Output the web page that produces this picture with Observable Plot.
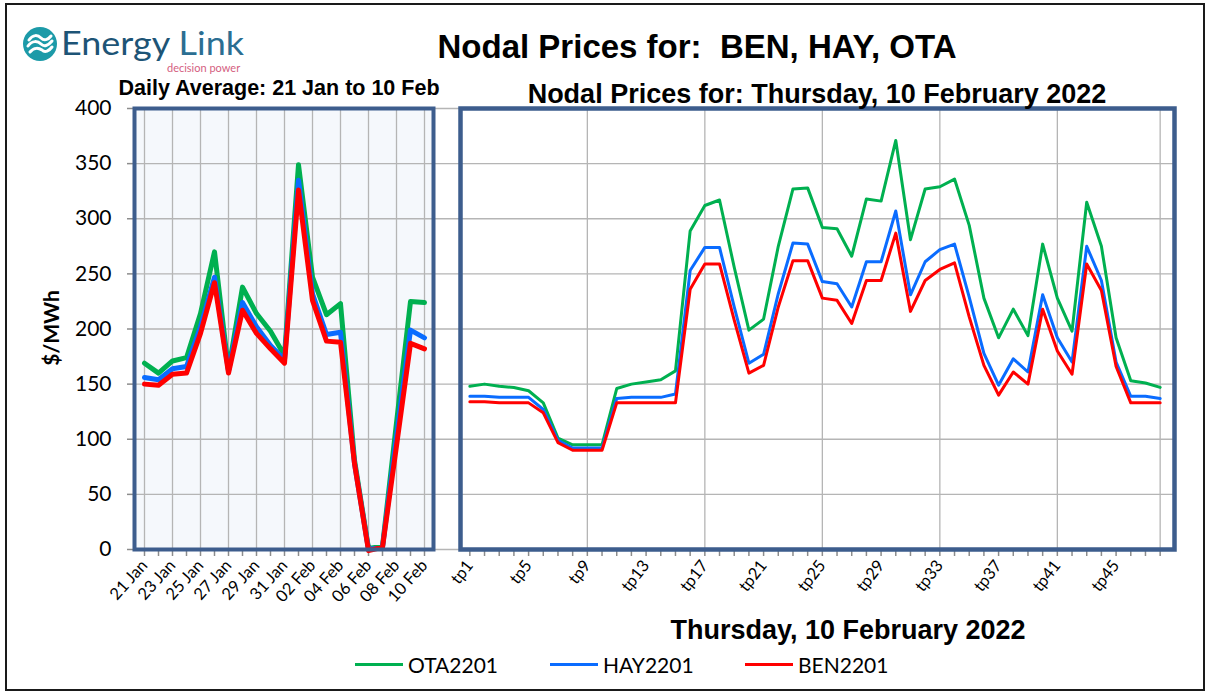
<!DOCTYPE html>
<html><head><meta charset="utf-8">
<script src="https://cdn.jsdelivr.net/npm/d3@7"></script>
<script src="https://cdn.jsdelivr.net/npm/@observablehq/plot@0.6"></script>
<style>
body{margin:0;background:#fff;}
#wrap{position:relative;width:1205px;height:691px;overflow:hidden;background:#fff;font-family:"Liberation Sans",Arial,sans-serif;}
.abs{position:absolute;white-space:nowrap;line-height:1;}
.ctr{transform:translateX(-50%);}
.bold{font-weight:bold;color:#000;}
#border{position:absolute;left:5px;top:3px;width:1196px;height:684px;border:2px solid #1a1a1a;}
.plot{position:absolute;top:0;}
</style></head><body>
<div id="wrap">
  <div id="border"></div>
  <div id="left" class="plot" style="left:0"></div>
  <div id="right" class="plot" style="left:460px"></div>
  <svg class="abs" style="left:22px;top:26px" width="36" height="36" viewBox="0 0 36 36">
    <circle cx="18" cy="18" r="17" fill="#1c9aa8"/>
    <path d="M7 14 C11 8,16 9,19 12 C22 15,26 14,29 10" stroke="#fff" stroke-width="3" fill="none" stroke-linecap="round"/>
    <path d="M6 20 C10 14,16 15,19 18 C22 21,26 20,30 15" stroke="#fff" stroke-width="3" fill="none" stroke-linecap="round"/>
    <path d="M8 26 C12 21,17 22,20 24 C23 27,27 25,30 21" stroke="#fff" stroke-width="3" fill="none" stroke-linecap="round"/>
  </svg>
  <div class="abs" style="left:61px;top:27px;font-family:Lato;font-size:33px;line-height:30px;height:30px;color:#1d5476;transform:scaleX(1.09);transform-origin:left top;">Energy <span style="color:#2b6e92">Link</span></div>
  <div class="abs" style="left:167px;top:62px;font-family:Lato;font-size:11px;color:#d4607f;">decision power</div>
  <div id="title" class="abs ctr bold" style="left:697px;top:30px;font-size:33px;">Nodal Prices for:&nbsp; BEN, HAY, OTA</div>
  <div id="subL" class="abs ctr bold" style="left:279px;top:78px;font-size:21.5px;">Daily Average: 21 Jan to 10 Feb</div>
  <div id="subR" class="abs ctr bold" style="left:817px;top:81px;font-size:27px;">Nodal Prices for: Thursday, 10 February 2022</div>
  <div id="xtitle" class="abs ctr bold" style="left:848px;top:617px;font-size:27px;">Thursday, 10 February 2022</div>
  <div class="abs" style="left:50px;top:328px;transform:translate(-50%,-50%) rotate(-90deg);font-family:Lato;font-weight:bold;font-size:21px;">$/MWh</div>
  <div id="legend"></div>
</div>
<script>
// ---- data ----
const seriesNames = ["OTA2201", "HAY2201", "BEN2201"];
const seriesColors = ["#00b050", "#0a6cff", "#ff0000"];
const yTicks = [0, 50, 100, 150, 200, 250, 300, 350, 400];

const days = ["21 Jan","22 Jan","23 Jan","24 Jan","25 Jan","26 Jan","27 Jan","28 Jan","29 Jan","30 Jan","31 Jan",
              "01 Feb","02 Feb","03 Feb","04 Feb","05 Feb","06 Feb","07 Feb","08 Feb","09 Feb","10 Feb"];
const dailyOTA = [169,160,171,174,214,270,163,238,214,198,176,349,247,213,223,81,1,3,115,225,224];
const dailyHAY = [156,154,164,166,202,247,162,224,202,185,172,335,232,195,197,78,0,2,103,199,192];
const dailyBEN = [150,149,159,160,196,242,160,217,196,182,169,326,226,189,188,78,-1,2,94,187,182];

const periods = ["tp1","tp2","tp3","tp4","tp5","tp6","tp7","tp8","tp9","tp10","tp11","tp12","tp13","tp14","tp15","tp16",
  "tp17","tp18","tp19","tp20","tp21","tp22","tp23","tp24","tp25","tp26","tp27","tp28","tp29","tp30","tp31","tp32",
  "tp33","tp34","tp35","tp36","tp37","tp38","tp39","tp40","tp41","tp42","tp43","tp44","tp45","tp46","tp47","tp48"];
const tpOTA = [148,150,148,147,144,133,101,95,95,95,146,150,152,154,162,289,312,317,256,199,209,275,327,328,
               292,291,266,318,316,371,281,327,329,336,294,228,192,218,194,277,228,198,315,275,192,153,151,147];
const tpHAY = [139,139,138,138,138,127,99,92,92,92,137,138,138,138,141,253,274,274,220,169,177,232,278,277,
               243,241,220,261,261,307,231,261,272,277,229,178,149,173,161,231,192,170,275,244,170,139,139,137];
const tpBEN = [134,134,133,133,133,124,97,90,90,90,133,133,133,133,133,236,259,259,208,160,167,220,262,262,
               228,226,205,244,244,287,216,244,254,260,211,167,140,161,150,218,180,159,259,235,166,133,133,133];

const dayLabels = days.filter((d, i) => i % 2 === 0);
const dayGrid = days.filter((d, i) => i % 2 === 0);
const tpLabels = periods.filter((d, i) => i % 4 === 0);
const tpGrid = ["tp9","tp17","tp25","tp33","tp41","tp48"];

// ---- tables ----
const dailyVals = [dailyOTA, dailyHAY, dailyBEN];
const tpVals = [tpOTA, tpHAY, tpBEN];
const dailyRows = seriesNames.flatMap((s, k) => days.map((d, i) => ({x: d, series: s, value: dailyVals[k][i]})));
const tpRows = seriesNames.flatMap((s, k) => periods.map((d, i) => ({x: d, series: s, value: tpVals[k][i]})));

const frameColor = "#3d5d8d";
const gridColor = "#b5b5b5";
const tickColor = "#8c8c8c";
const H = 640, M_TOP = 108, M_BOTTOM = H - 549;

const left = Plot.plot({
  width: 460, height: H,
  marginLeft: 134, marginRight: 27, marginTop: M_TOP, marginBottom: M_BOTTOM,
  style: {background: "transparent", fontFamily: "Lato", overflow: "visible"},
  x: {type: "point", domain: days, padding: 0, axis: null},
  y: {domain: [0, 400], axis: null},
  color: {domain: seriesNames, range: seriesColors},
  marks: [
    Plot.frame({fill: "#f5f8fc", stroke: null}),
    Plot.ruleY(yTicks.slice(1), {stroke: gridColor, strokeWidth: 1.3, insetRight: -27}),
    Plot.ruleX(dayGrid, {stroke: gridColor, strokeWidth: 1.3}),
    Plot.ruleY([0], {stroke: gridColor, strokeWidth: 1.3, insetRight: -27}),
    Plot.axisY({ticks: yTicks, tickSize: 7, tickPadding: 16, fontSize: 21, stroke: tickColor, strokeWidth: 1.5, fill: "#000", label: null}),
    Plot.axisX({ticks: days, tickSize: 7, tickPadding: 6, tickRotate: -48, fontSize: 16.5, stroke: tickColor, strokeWidth: 1.5, fill: "#000",
      tickFormat: d => dayLabels.includes(d) ? d : "", label: null}),
    Plot.lineY(dailyRows, {x: "x", y: "value", z: "series", stroke: "series", strokeWidth: 5}),
    Plot.frame({stroke: frameColor, strokeWidth: 4})
  ]
});
document.getElementById("left").appendChild(left);

const right = Plot.plot({
  width: 745, height: H,
  marginLeft: 0, marginRight: 745 - 714, marginTop: M_TOP, marginBottom: M_BOTTOM,
  style: {background: "transparent", fontFamily: "Lato", overflow: "visible"},
  x: {type: "point", domain: periods, range: [2, 707], axis: null},
  y: {domain: [0, 400], axis: null},
  color: {domain: seriesNames, range: seriesColors},
  marks: [
    Plot.ruleY(yTicks.slice(1), {stroke: gridColor, strokeWidth: 1.3}),
    Plot.ruleX(tpGrid, {stroke: gridColor, strokeWidth: 1.3}),
    Plot.axisX({ticks: periods, tickSize: 7, tickPadding: 6, tickRotate: -52, fontSize: 16.5, stroke: tickColor, strokeWidth: 1.5, fill: "#000",
      tickFormat: d => tpLabels.includes(d) ? d : "", label: null}),
    Plot.lineY(tpRows, {x: "x", y: "value", z: "series", stroke: "series", strokeWidth: 3}),
    Plot.frame({stroke: frameColor, strokeWidth: 4.5})
  ]
});
document.getElementById("right").appendChild(right);

// ---- legend ----
const legendLeft = [355, 550, 745];
const lg = document.getElementById("legend");
seriesNames.forEach((s, k) => {
  const item = document.createElement("div");
  item.className = "abs";
  item.style.cssText = `left:${legendLeft[k]}px;top:654px;font-family:Lato;font-size:21px;display:flex;align-items:center;`;
  item.innerHTML = `<span style="display:inline-block;width:48px;height:3px;background:${seriesColors[k]};margin-right:5px"></span>${s}`;
  lg.appendChild(item);
});
</script>
</body></html>
